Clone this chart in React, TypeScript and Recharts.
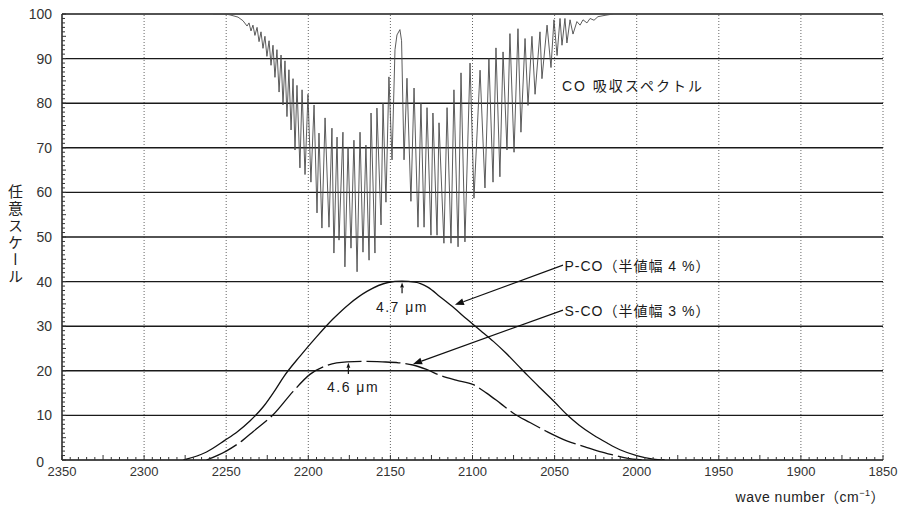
import React from 'react';
import { LineChart, Line, XAxis, YAxis, ReferenceLine, ReferenceDot } from 'recharts';

// ---- axis ticks ----
const xMajorTicks = [2350, 2300, 2250, 2200, 2150, 2100, 2050, 2000, 1950, 1900, 1850];
const yMajorTicks = [0, 10, 20, 30, 40, 50, 60, 70, 80, 90, 100];
const xGridTicks = [2300, 2250, 2200, 2150, 2100, 2050, 2000, 1950, 1900, 1850];
const yGridTicks = [10, 20, 30, 40, 50, 60, 70, 80, 90, 100];
const xMinorTicks = Array.from({ length: 101 }, (_, i) => 2350 - i * 5);
const yMinorTicks = Array.from({ length: 101 }, (_, i) => i);

// ---- CO absorption spectrum (wave number, value) ----
const specWn = [
  2258, 2250.7, 2247.7, 2242.8, 2239.8, 2237.3, 2236.1, 2234.9, 2233.7, 2232.5, 2231.2, 2230.0, 2228.8,
  2227.6, 2226.4, 2225.2, 2223.9, 2222.7, 2221.5, 2220.3, 2219.1, 2217.8, 2216.6, 2215.4, 2214.2, 2213.0,
  2211.8, 2210.5, 2209.3, 2208.1, 2206.9, 2205.1, 2203.8, 2202.0, 2200.2, 2198.4, 2196.5, 2194.7, 2193.5,
  2191.7, 2189.8, 2187.4, 2185.6, 2184.4, 2182.5, 2181.3, 2178.9, 2177.7, 2175.8, 2174.0, 2172.2, 2170.3,
  2168.5, 2166.7, 2164.9, 2163.0, 2161.8, 2159.4, 2158.2, 2155.7, 2154.5, 2152.7, 2150.9, 2149.0, 2147.2,
  2146.0, 2144.2, 2143.2, 2141.7, 2139.9, 2137.5, 2135.6, 2133.2, 2131.4, 2129.5, 2127.7, 2125.3, 2124.1,
  2121.6, 2120.4, 2117.4, 2115.5, 2113.1, 2111.3, 2108.8, 2107.0, 2104.6, 2101.5, 2099.1, 2095.4, 2092.4,
  2090.0, 2087.5, 2085.7, 2083.3, 2081.4, 2079.0, 2077.2, 2074.7, 2072.3, 2070.5, 2068.0, 2066.2, 2063.8,
  2061.9, 2058.9, 2057.7, 2054.6, 2052.2, 2050.4, 2048.5, 2046.7, 2045.5, 2043.7, 2042.5, 2040.6, 2038.8,
  2036.4, 2034.5, 2032.7, 2030.3, 2028.4, 2026.0, 2023.6, 2019.3, 2014.4,
];
const specVal = [
  100, 100, 99.8, 99.3, 98.5, 97.3, 98, 96.2, 97.5, 95.2, 97, 93.8, 96,
  92.3, 95, 90.5, 94, 88.5, 93, 85.8, 92, 82.5, 90.8, 79.6, 89.5, 77,
  87.5, 74, 85.5, 69.5, 84, 65.5, 83, 64, 82, 62.3, 79.6, 55.4, 73.3,
  52, 76.7, 52.2, 74.4, 46.4, 72.4, 49.3, 73.5, 43.3, 70.2, 47.5, 71.7, 42.2,
  73.5, 46.6, 70.6, 44.8, 77.8, 46.4, 78.9, 52.7, 80, 57.8, 85.9, 67.3, 92,
  95.3, 96.5, 94, 67.3, 85.6, 58, 83.4, 52.2, 80, 52.2, 79, 50.4, 77.8,
  50.4, 75.6, 48.6, 79, 48.6, 83, 47.8, 86.8, 48.9, 89, 58.7, 87.4, 61,
  90, 62.3, 92.4, 63.5, 91.5, 69.5, 95.6, 69, 96.7, 73.5, 94.5, 79.5, 95,
  82, 96, 85.5, 97.5, 88, 98.7, 90.7, 99, 93, 99, 93.5, 98.7, 95.5,
  98.3, 97.5, 98.7, 98, 99, 98.6, 99.4, 99.7, 100,
];

// ---- P-CO (half width 4 %) ----
const pcoWn = [
  2276, 2262, 2250.9, 2243, 2235.4, 2227.3, 2220, 2215.1, 2205, 2195, 2185, 2175, 2164.3, 2151.5, 2143,
  2135, 2127, 2119.8, 2111, 2103.5, 2095, 2087.3, 2080, 2073.1, 2066, 2058.9, 2050, 2042.6, 2035, 2026.4,
  2018, 2010.2, 2000, 1990, 1983,
];
const pcoVal = [
  0, 1.8, 4.4, 6.4, 8.8, 12, 15.8, 18.6, 23.3, 27.6, 31.6, 35.0, 37.8, 39.8, 40.1,
  39.9, 38.7, 36.6, 34.0, 31.6, 29.0, 26.6, 24.1, 21.5, 18.8, 16.2, 13.0, 10.2, 7.8, 5.6,
  3.8, 2.3, 1.0, 0.2, 0,
];

// ---- S-CO (half width 3 %) ----
const scoWn = [
  2262, 2250, 2240, 2233.5, 2221.3, 2209.2, 2199, 2188.7, 2176.5, 2165, 2155, 2145, 2136.2, 2128,
  2119.8, 2110, 2099.5, 2091.4, 2083, 2075.1, 2065, 2054.8, 2042.6, 2032, 2022.4, 2014, 2006.1, 1997,
];
const scoVal = [
  0, 2.0, 4.4, 6.4, 10.2, 15.4, 19.2, 21.2, 22.0, 22.1, 22.0, 21.8, 21.3, 20.3,
  19.0, 17.9, 16.9, 15.0, 12.7, 10.5, 8.4, 6.4, 4.3, 3.0, 1.9, 1.1, 0.4, 0,
];

// ---- annotations ----
const labelTexts = ['CO 吸収スペクトル', 'P-CO（半値幅 4 %）', 'S-CO（半値幅 3 %）', '4.7 μm', '4.6 μm'];
const labelWn = [2045.5, 2044.0, 2044.0, 2158.8, 2188.6];
const labelVal = [83.9, 43.5, 33.4, 34.3, 16.4];
const labelSpacing = [2, 1, 1, 1.5, 1.5];
const arrowFromWn = [2044.9, 2044.9, 2142.9, 2175.6];
const arrowFromVal = [43.7, 33.6, 37.4, 19.3];
const arrowToWn = [2110.7, 2136.2, 2142.9, 2175.6];
const arrowToVal = [34.8, 21.5, 39.8, 21.8];
const arrowHead = [9, 9, 5, 5];

const specData = specWn.map((wn, i) => ({ wn, v: specVal[i] }));
const pcoData = pcoWn.map((wn, i) => ({ wn, v: pcoVal[i] }));
const scoData = scoWn.map((wn, i) => ({ wn, v: scoVal[i] }));

const FONT = '"Liberation Sans", "Noto Sans CJK JP", sans-serif';

const XTick = (props: any) => {
  const { x, y, payload } = props;
  const v = payload.value;
  const major = xMajorTicks.includes(v);
  const len = v % 25 === 0 ? 5 : 3;
  return (
    <g>
      <line x1={x} y1={y} x2={x} y2={y - len} stroke="#333" strokeWidth={1} />
      {major && (
        <text x={x} y={y + 16} textAnchor="middle" fontSize={13} fill="#333" fontFamily={FONT}>
          {v}
        </text>
      )}
    </g>
  );
};

const YTick = (props: any) => {
  const { x, y, payload } = props;
  const v = payload.value;
  const major = yMajorTicks.includes(v);
  const len = v % 5 === 0 ? 4 : 3;
  return (
    <g>
      <line x1={x} y1={y} x2={x + len} y2={y} stroke="#333" strokeWidth={1} />
      {major && (
        <text x={v === 0 ? x - 18 : x - 10} y={y + (v === 0 ? 7 : 5)} textAnchor="end" fontSize={14} fill="#333" fontFamily={FONT}>
          {v}
        </text>
      )}
    </g>
  );
};

const arrowShape = (head: number) => (p: any) => {
  const { x1, y1, x2, y2 } = p;
  const ang = Math.atan2(y2 - y1, x2 - x1);
  const hw = head * 0.38;
  const bx = x2 - head * Math.cos(ang);
  const by = y2 - head * Math.sin(ang);
  const pts = `${x2},${y2} ${bx + hw * Math.sin(ang)},${by - hw * Math.cos(ang)} ${bx - hw * Math.sin(ang)},${by + hw * Math.cos(ang)}`;
  return (
    <g>
      <line x1={x1} y1={y1} x2={bx} y2={by} stroke="#111" strokeWidth={1.2} />
      <polygon points={pts} fill="#111" />
    </g>
  );
};

const textShape = (text: string, spacing: number) => (p: any) => (
  <text
    x={p.cx}
    y={p.cy}
    dy="0.36em"
    textAnchor="start"
    fontSize={14}
    fill="#1a1a1a"
    fontFamily={FONT}
    style={{ letterSpacing: spacing }}
  >
    {text}
  </text>
);

export default function App() {
  return (
    <div style={{ position: 'absolute', left: 0, top: 0, width: 905, height: 509, background: '#fff' }}>
      <LineChart width={905} height={509} margin={{ top: 14, right: 22, bottom: 0, left: 0 }}>
        <XAxis
          type="number"
          dataKey="wn"
          domain={[1850, 2350]}
          reversed
          allowDataOverflow
          ticks={xMinorTicks}
          interval={0}
          tickSize={0}
          tickMargin={0}
          height={49}
          axisLine={{ stroke: '#111', strokeWidth: 1.6 }}
          tick={<XTick />}
        />
        <YAxis
          type="number"
          domain={[0, 100]}
          allowDataOverflow
          ticks={yMinorTicks}
          interval={0}
          tickSize={0}
          tickMargin={0}
          width={62}
          axisLine={{ stroke: '#111', strokeWidth: 1.4 }}
          tick={<YTick />}
        />
        {xGridTicks.map((v) => (
          <ReferenceLine key={'vx' + v} x={v} stroke="#666" strokeWidth={1} strokeDasharray="1 2" />
        ))}
        {yGridTicks.map((v) => (
          <ReferenceLine key={'hy' + v} y={v} stroke="#1a1a1a" strokeWidth={1.4} />
        ))}
        <Line data={specData} dataKey="v" type="linear" stroke="#4a4a4a" strokeWidth={0.9} dot={false} isAnimationActive={false} />
        <Line data={pcoData} dataKey="v" type="monotone" stroke="#111" strokeWidth={1.3} dot={false} isAnimationActive={false} />
        <Line data={scoData} dataKey="v" type="monotone" stroke="#111" strokeWidth={1.3} strokeDasharray="34 5" dot={false} isAnimationActive={false} />
        {arrowFromWn.map((wn, i) => (
          <ReferenceLine
            key={'ar' + i}
            segment={[{ x: wn, y: arrowFromVal[i] }, { x: arrowToWn[i], y: arrowToVal[i] }]}
            shape={arrowShape(arrowHead[i])}
          />
        ))}
        {labelTexts.map((t, i) => (
          <ReferenceDot key={'lb' + i} x={labelWn[i]} y={labelVal[i]} r={0} shape={textShape(t, labelSpacing[i])} />
        ))}
      </LineChart>
      <div
        style={{
          position: 'absolute',
          left: 7,
          top: 184,
          writingMode: 'vertical-rl',
          fontFamily: FONT,
          fontSize: 15,
          letterSpacing: 2,
          color: '#222',
          lineHeight: 1,
        }}
      >
        任意スケール
      </div>
      <div
        style={{
          position: 'absolute',
          right: 20,
          top: 486,
          fontFamily: FONT,
          fontSize: 14,
          letterSpacing: 0.5,
          color: '#222',
          whiteSpace: 'nowrap',
        }}
      >
        wave number（cm<sup style={{ fontSize: 9 }}>−1</sup>）
      </div>
    </div>
  );
}
